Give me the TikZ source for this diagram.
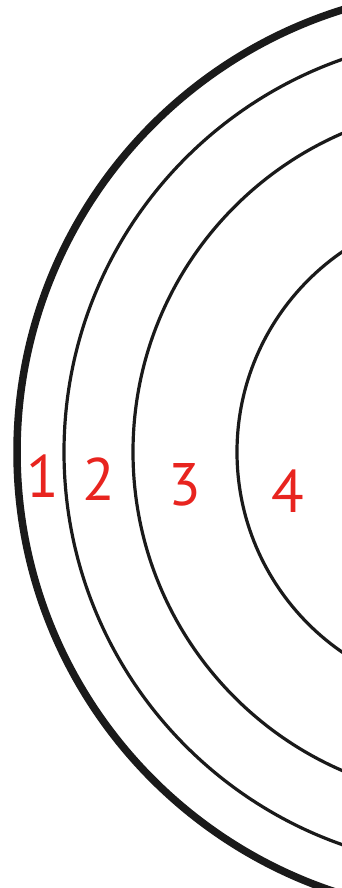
\documentclass[tikz,border=0pt]{standalone}
\usepackage{fontspec}
\setmainfont{PT Sans}
\usepackage{tikz}
\usetikzlibrary{positioning}
\usepackage{xcolor}
\definecolor{ink}{HTML}{1A1A1A}
\definecolor{mark}{HTML}{E8241F}

\begin{document}
\begin{tikzpicture}[
    x=1pt, y=-1pt,
    rim/.style={draw=ink, line width=7.5pt},
    ring/.style={draw=ink, line width=3.2pt},
    num/.style={text=mark, font=\fontsize{60}{60}\selectfont, inner sep=0pt, anchor=center}
]

\useasboundingbox (0,0) rectangle (342,888);
\clip (0,0) rectangle (342,888);

\coordinate (ctr) at (480,452);

\draw[rim]  (ctr) circle[radius=463pt];
\draw[ring] (ctr) circle[radius=416pt];
\draw[ring] (ctr) circle[radius=347pt];
\draw[ring] (ctr) circle[radius=243pt];

\node[num] (n1) at (43,476) {1};
\node[num] (n2) at (99,479) {2};
\node[num] (n3) at (185,485) {3};
\node[num] (n4) at (288,491) {4};

\end{tikzpicture}
\end{document}
